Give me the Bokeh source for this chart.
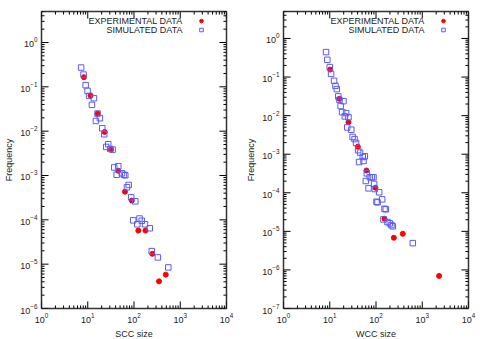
import math
from bokeh.plotting import figure
from bokeh.models import Legend, LegendItem, LogTicker, Range1d, Label
from bokeh.layouts import row
from bokeh.embed import file_html
from bokeh.resources import INLINE

# ---- SCC panel data ----
scc_exp_x = [8.25, 11.5, 16.3, 23.2, 31.8, 45.5, 63.8, 89.6, 124, 177, 249, 486, 348]
scc_exp_y = [0.165, 0.0635, 0.0249, 0.00961, 0.00383, 0.00128, 0.000431, 0.000272,
             0.0000573, 0.0000573, 0.0000171, 0.0000058, 0.0000041]
scc_sim_x = [7.2, 8.1, 9.0, 9.9, 10.7, 13.6, 12.3, 16.3, 18.3, 15.0, 20.6, 22.7, 27.7,
             25.1, 30.7, 34.5, 37.4, 45.7, 42.2, 55.0, 60.7, 64.8, 76.7, 70.5, 86.9,
             106.7, 96.1, 131.5, 118, 147, 173, 219, 242, 328, 551]
scc_sim_y = [0.272, 0.189, 0.109, 0.081, 0.0625, 0.0555, 0.0392, 0.0249, 0.0196, 0.0170,
             0.01165, 0.00853, 0.00507, 0.00441, 0.00397, 0.00383, 0.00152, 0.00162,
             0.00104, 0.00112, 0.00104, 0.00101, 0.000611, 0.000542, 0.000322, 0.000261,
             0.0000973, 0.000107, 0.0000794, 0.0000953, 0.0000794, 0.0000645, 0.0000197,
             0.0000142, 0.00000844]

# ---- WCC panel data ----
wcc_exp_x = [10.2, 16.2, 25.4, 40.4, 62.3, 97.5, 153, 380, 243, 2314]
wcc_exp_y = [0.156, 0.0272, 0.00675, 0.00157, 0.000378, 0.000135, 0.0000212,
             0.00000864, 0.0000068, 0.000000701]
wcc_sim_x = [8.3, 8.85, 10.0, 10.7, 12.4, 13.3, 14.2, 15.3, 16.2, 19.8, 17.2, 18.5, 22.6,
             21.2, 25.4, 23.9, 29.2, 31.2, 34.4, 37.1, 41.0, 45.3, 51.8, 57.3, 43.1, 53.7,
             63.2, 60.2, 73.5, 81.2, 88.3, 91, 68.9, 94.2, 117, 136, 102.5, 108, 153, 163,
             145, 177, 199, 216, 231, 625]
wcc_sim_y = [0.443, 0.280, 0.181, 0.121, 0.0797, 0.0591, 0.0486, 0.0315, 0.0256, 0.0237,
             0.0177, 0.0123, 0.0116, 0.00954, 0.00910, 0.00494, 0.00431, 0.0028, 0.00246,
             0.00196, 0.00127, 0.0011, 0.000848, 0.000884, 0.000628, 0.000667, 0.00032,
             0.000202, 0.000252, 0.000252, 0.000252, 0.000169, 0.00013, 0.000125, 0.000103,
             0.0000675, 0.0000585, 0.0000564, 0.0000385, 0.0000372, 0.0000204, 0.0000174,
             0.0000161, 0.0000145, 0.0000135, 0.00000495]

legend_labels = ["EXPERIMENTAL DATA", "SIMULATED DATA"]
FONT = "Liberation Sans"
FW, FH = 185, 297
X_MIN, X_MAX, Y_MAX = 1, 1e4, 5
NUDGE = 1.003  # keep tick anchors just inside the frame


def log_ticks(lo, hi):
    majors, minors = [], []
    for d in range(math.floor(math.log10(lo)), math.ceil(math.log10(hi)) + 1):
        for k in range(1, 10):
            v = k * 10.0 ** d
            if lo * 0.9999 <= v <= hi * 1.0001:
                (majors if k == 1 else minors).append(v)
    return majors, minors


def style_axis(ax):
    ax.ticker = LogTicker(num_minor_ticks=10)
    ax.major_tick_in = 0
    ax.major_tick_out = 0
    ax.minor_tick_in = 0
    ax.minor_tick_out = 0
    ax.axis_line_color = None
    ax.major_label_text_font = FONT
    ax.axis_label_text_font = FONT
    ax.axis_label_text_font_style = "normal"
    ax.axis_label_text_font_size = "9px"
    ax.axis_label_text_color = "#222222"
    ax.major_label_text_color = "#222222"
    ax.major_label_text_font_size = "9px"
    ax.major_label_standoff = 4
    ax.axis_label_standoff = 3


def clamp(v, lo, hi):
    return min(max(v, lo * NUDGE), hi / NUDGE)


def inward_ticks(p, ymin):
    # pixel lengths converted to multiplicative factors on the log scales
    fx = lambda px: 10 ** (px * math.log10(X_MAX / X_MIN) / FW)
    fy = lambda px: 10 ** (px * math.log10(Y_MAX / ymin) / FH)
    xmaj, xmin_ = log_ticks(X_MIN, X_MAX)
    ymaj, ymin_ = log_ticks(ymin, Y_MAX)
    bot, top = ymin * NUDGE, Y_MAX / NUDGE
    lft, rgt = X_MIN * NUDGE, X_MAX / NUDGE
    x0, x1, y0, y1 = [], [], [], []
    for vals, ln in ((xmaj, 7), (xmin_, 3)):
        for v in vals:
            xv = clamp(v, X_MIN, X_MAX)
            x0 += [xv, xv]
            x1 += [xv, xv]
            y0 += [bot, top]
            y1 += [bot * fy(ln), top / fy(ln)]
    for vals, ln in ((ymaj, 7), (ymin_, 3)):
        for v in vals:
            yv = clamp(v, ymin, Y_MAX)
            y0 += [yv, yv]
            y1 += [yv, yv]
            x0 += [lft, rgt]
            x1 += [lft * fx(ln), rgt / fx(ln)]
    p.segment(x0=x0, y0=y0, x1=x1, y1=y1, line_color="black", line_width=1)


def make_panel(xlabel, ymin, ex_x, ex_y, sm_x, sm_y, bl, br):
    p = figure(frame_width=FW, frame_height=FH, x_axis_type="log", y_axis_type="log",
               x_range=Range1d(X_MIN, X_MAX), y_range=Range1d(ymin, Y_MAX),
               output_backend="svg", toolbar_location=None,
               min_border_left=bl, min_border_right=br, min_border_top=11,
               min_border_bottom=30)
    p.grid.visible = False
    p.outline_line_color = "#333333"
    p.outline_line_width = 1.5
    p.background_fill_color = "white"
    p.border_fill_color = "white"
    style_axis(p.xaxis[0])
    style_axis(p.yaxis[0])
    p.xaxis[0].axis_label = xlabel
    p.yaxis[0].axis_label = "Frequency"

    inward_ticks(p, ymin)

    r_ex = p.scatter(ex_x, ex_y, marker="circle", size=5, fill_color="#ff0000",
                     line_color="#ff0000")
    r_sm = p.scatter(sm_x, sm_y, marker="square", size=5.5, fill_color=None,
                     line_color="#5a5aff", line_width=1)
    leg = Legend(items=[LegendItem(label=" ", renderers=[r_ex]),
                        LegendItem(label=" ", renderers=[r_sm])],
                 location=(FW - 30, FH - 23), border_line_color=None,
                 background_fill_alpha=0, label_text_font=FONT,
                 label_text_font_size="9px",
                 glyph_width=10, glyph_height=9, spacing=0, padding=0,
                 margin=0, label_height=9, label_standoff=0)
    p.add_layout(leg)
    for i, txt in enumerate(legend_labels):
        p.add_layout(Label(x=FW - 44, y=FH - 9 - 9.5 * i, x_units="screen",
                           y_units="screen", text=txt, text_align="right",
                           text_baseline="middle", text_font=FONT,
                           text_font_size="9px", text_color="#222222"))
    return p


p1 = make_panel("SCC size", 1e-6, scc_exp_x, scc_exp_y, scc_sim_x, scc_sim_y, 41, 15)
p2 = make_panel("WCC size", 1e-7, wcc_exp_x, wcc_exp_y, wcc_sim_x, wcc_sim_y, 42, 10)

layout = row(p1, p2)
open("out.html", "w").write(file_html(layout, INLINE))
